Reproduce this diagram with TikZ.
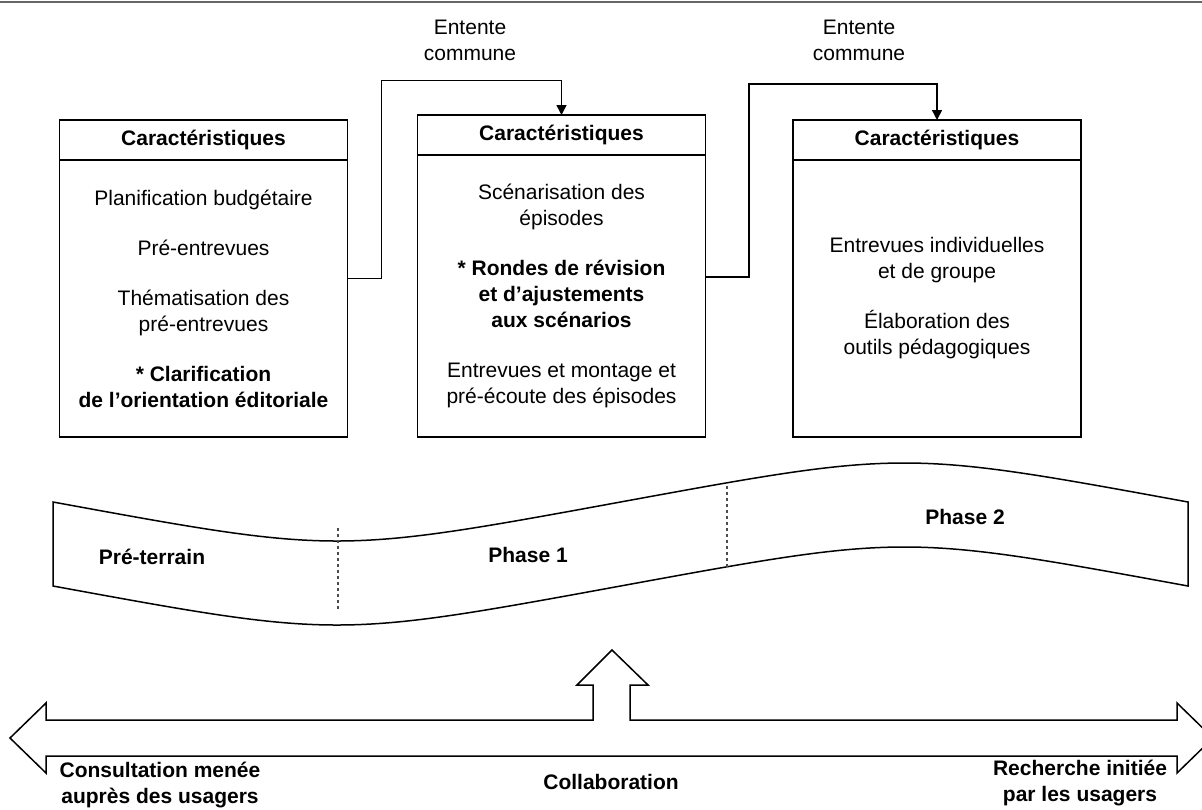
\documentclass[tikz,border=0pt]{standalone}
\usepackage{fontspec}
\setmainfont{Liberation Sans}
\usetikzlibrary{positioning,arrows.meta}

\begin{document}
\begin{tikzpicture}[x=0.5pt,y=-0.5pt,line width=0.75pt,
    every node/.style={font=\fontsize{10.5}{13}\selectfont},
    hdr/.style={draw,outer sep=0pt,minimum width=144pt,minimum height=20pt,
      font=\fontsize{10.5}{13}\selectfont\bfseries},
    body/.style={draw,outer sep=0pt,minimum width=144pt,align=center},
    conn/.style={-{Triangle[length=5pt,width=5pt]}},
    lbl/.style={align=center,font=\fontsize{10.5}{13}\selectfont\bfseries},
    sep/.style={gray!60!black,dash pattern=on 1.5pt off 1.5pt}]
    \useasboundingbox (0,0) rectangle (1202,809);
    \clip (0,0) rectangle (1202,809);
    \draw[gray!80!black,line width=1pt] (0,2) -- (1202,2);

    \node[hdr] (hdr1) at (203.5,140) {Caractéristiques};
    \node[hdr] (hdr2) at (561.5,135) {Caractéristiques};
    \node[hdr] (hdr3) at (937,140) {Caractéristiques};

    \node[body,minimum height=138.5pt,below=0pt of hdr1] (body1) {Planification budgétaire\\[12pt]
      Pré-entrevues\\[12pt]
      Thématisation des\\pré-entrevues\\[12pt]
      \textbf{* Clarification}\\\textbf{de l'orientation éditoriale}};
    \node[body,minimum height=141pt,below=0pt of hdr2] (body2) {Scénarisation des\\épisodes\\[12pt]
      \textbf{* Rondes de révision}\\\textbf{et d'ajustements}\\\textbf{aux scénarios}\\[12pt]
      Entrevues et montage et\\pré-écoute des épisodes};
    \node[body,minimum height=138.5pt,below=0pt of hdr3] (body3) {Entrevues individuelles\\et de groupe\\[12pt]
      Élaboration des\\outils pédagogiques};

    \draw[conn] ([yshift=10pt]body1.east) -| ++(34,-198) -| (hdr2.north);
    \draw[conn] ([yshift=9.5pt]body2.east) -| ++(43.5,-193) -| (hdr3.north);
    \node[align=center] (ent1) at (470,40) {Entente\\commune};
    \node[align=center] (ent2) at (859,40) {Entente\\commune};

    \draw (53,502) .. controls (336.75,554) .. (620.5,502)
      .. controls (904.25,450) .. (1188,502) -- (1188,586)
      .. controls (904.25,534) .. (620.5,586)
      .. controls (336.75,638) .. (53,586) -- cycle;
    \draw[sep] (338,528) -- (338,612);
    \draw[sep] (727,486) -- (727,570);
    \node[lbl] (pre) at (152,557) {Pré-terrain};
    \node[lbl] (ph1) at (528,555) {Phase 1};
    \node[lbl] (ph2) at (965,517) {Phase 2};

    \draw (10,738) -- (46,703) -- (46,720) -- (593,720) -- (593,685) -- (577,685)
      -- (612,650) -- (648,685) -- (630,685) -- (630,720) -- (1177,720)
      -- (1177,703) -- (1213,738) -- (1177,773) -- (1177,756) -- (46,756)
      -- (46,773) -- cycle;
    \node[lbl] (cons) at (160,785) {Consultation menée\\auprès des usagers};
    \node[lbl] (collab) at (611,782) {Collaboration};
    \node[lbl] (rech) at (1080,783.5) {Recherche initiée\\par les usagers};
  \end{tikzpicture}
\end{document}
